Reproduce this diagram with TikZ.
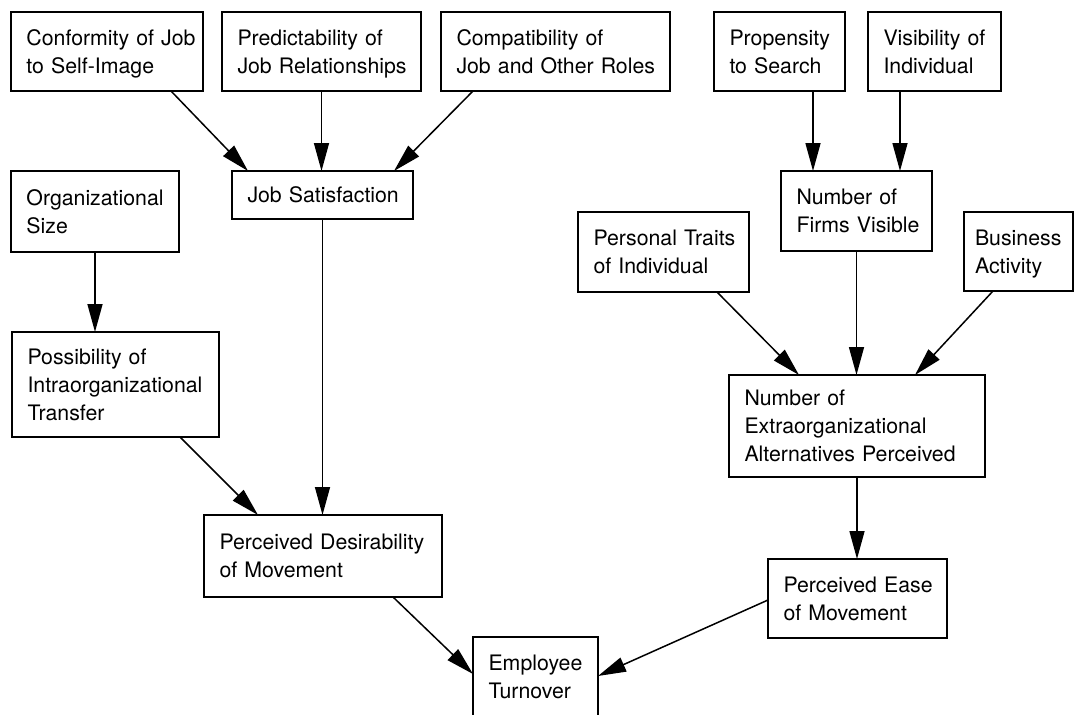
\documentclass[tikz,border=0pt]{standalone}
\usepackage{fontspec}
\setmainfont{TeX Gyre Heros}
\usetikzlibrary{arrows.meta}

% one box text: left-aligned lines that never wrap, set a little low
\newcommand\boxlines[1]{\raisebox{-2pt}[\height][\depth]{\begin{tabular}{@{}l@{}}#1\end{tabular}}}

\tikzset{
  factor/.style={draw, line width=1.5pt, rectangle, anchor=north west,
    inner xsep=15.5pt, inner ysep=0pt, outer sep=0pt, align=left,
    font=\fontsize{21.3}{28}\selectfont},
  arr/.style={line width=1.5pt, -{Triangle[length=28pt,width=15pt]}}
}

\begin{document}
\begin{tikzpicture}[x=1pt,y=-1pt]
\useasboundingbox (0,0) rectangle (1074,715);
\clip (0,0) rectangle (1074,715);

% top row of antecedents
\node[factor, text width=161pt, minimum height=79pt] (conf) at (11,12)
  {\boxlines{Conformity of Job\\to Self-Image}};
\node[factor, text width=168pt, minimum height=79pt] (pred) at (222,12)
  {\boxlines{Predictability of\\Job Relationships}};
\node[factor, text width=198pt, minimum height=79pt] (comp) at (441,12)
  {\boxlines{Compatibility of\\Job and Other Roles}};
\node[factor, text width=100pt, minimum height=79pt] (prop) at (714,12)
  {\boxlines{Propensity\\to Search}};
\node[factor, text width=102pt, minimum height=79pt] (vis) at (868,12)
  {\boxlines{Visibility of\\Individual}};

% second tier
\node[factor, text width=150pt, minimum height=48pt] (js) at (232,171)
  {\boxlines{Job Satisfaction}};
\node[factor, text width=137pt, minimum height=81pt] (size) at (11,171)
  {\boxlines{Organizational\\Size}};
\node[factor, text width=120pt, minimum height=80pt] (firms) at (781,171)
  {\boxlines{Number of\\Firms Visible}};
\node[factor, text width=140pt, minimum height=80pt] (traits) at (578,212)
  {\boxlines{Personal Traits\\of Individual}};
\node[factor, inner xsep=11pt, text width=87pt, minimum height=79pt] (bus) at (964,212)
  {\boxlines{Business\\Activity}};

% intermediate perceptions
\node[factor, text width=176pt, minimum height=105pt] (poss) at (12,332)
  {\boxlines{Possibility of\\Intraorganizational\\Transfer}};
\node[factor, text width=225pt, minimum height=102pt] (neap) at (729,375)
  {\boxlines{Number of\\Extraorganizational\\Alternatives Perceived}};
\node[factor, text width=207pt, minimum height=82pt] (des) at (204,515)
  {\boxlines{Perceived Desirability\\of Movement}};
\node[factor, text width=148pt, minimum height=79pt] (ease) at (768,559)
  {\boxlines{Perceived Ease\\of Movement}};

% outcome
\node[factor, text width=94pt, minimum height=80pt] (turn) at (473,637)
  {\boxlines{Employee\\Turnover}};

% connectors into job satisfaction
\draw[arr] ([xshift=160pt]conf.south west) -- ([xshift=16pt]js.north west);
\draw[arr] (pred.south) -- (pred.south |- js.north);
\draw[arr] ([xshift=32pt]comp.south west) -- ([xshift=162pt]js.north west);

% connectors into firms visible
\draw[arr] ([xshift=99pt]prop.south west) -- ([xshift=32pt]firms.north west);
\draw[arr] ([xshift=32pt]vis.south west) -- ([xshift=119pt]firms.north west);

% left branch
\draw[arr] (size.south) -- (size.south |- poss.north);
\draw[arr] (js.south) -- (js.south |- des.north);
\draw[arr] ([xshift=168pt]poss.south west) -- ([xshift=54pt]des.north west);

% right branch
\draw[arr] ([xshift=139pt]traits.south west) -- ([xshift=70pt]neap.north west);
\draw[arr] (firms.south) -- (firms.south |- neap.north);
\draw[arr] ([xshift=29pt]bus.south west) -- ([xshift=186pt]neap.north west);
\draw[arr] (neap.south) -- (neap.south |- ease.north);

% into turnover
\draw[arr] ([xshift=189pt]des.south west) -- ([yshift=-37pt]turn.north west);
\draw[arr] ([yshift=-41pt]ease.north west) -- ([yshift=-39pt]turn.north east);
\end{tikzpicture}
\end{document}
